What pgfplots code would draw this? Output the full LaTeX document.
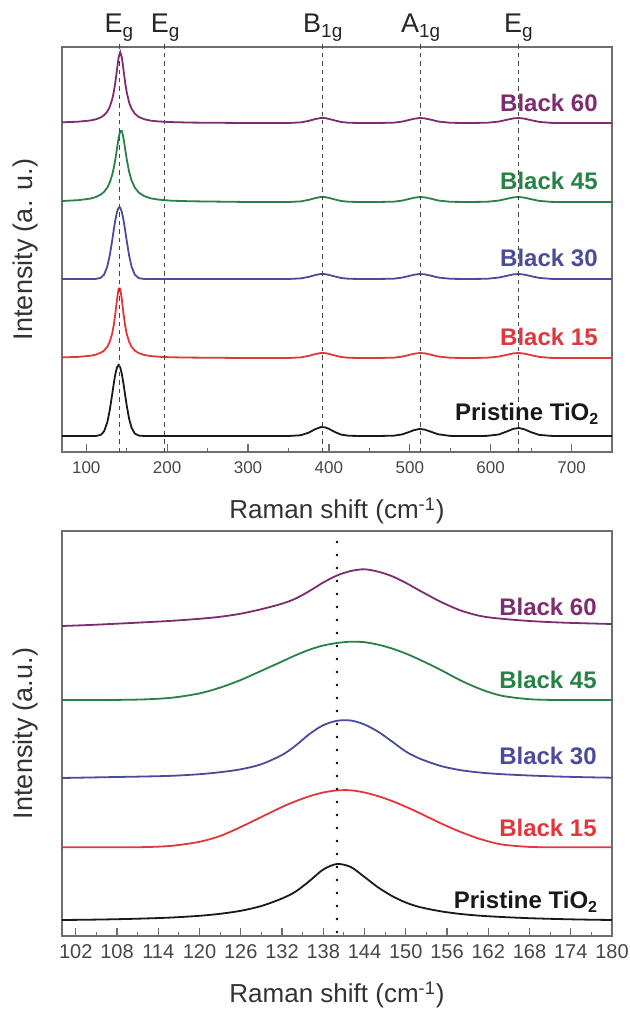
\documentclass[border=0pt]{standalone}
\usepackage{fontspec}
\setmainfont{Liberation Sans}
\usepackage{pgfplots}
\pgfplotsset{compat=1.18}
\usepackage{pgfplotstable}

\definecolor{cBsixty}{RGB}{125,45,110}
\definecolor{cBfortyfive}{RGB}{40,130,70}
\definecolor{cBthirty}{RGB}{75,75,155}
\definecolor{cBfifteen}{RGB}{225,55,60}
\definecolor{cPr}{RGB}{25,25,25}
\definecolor{axgray}{RGB}{110,110,110}
\definecolor{tickgray}{RGB}{70,70,70}
\definecolor{refgray}{RGB}{70,70,70}

% full range spectra (offset stacked)
\pgfplotstableread{
x   p     b15   b30   b45   b60
70  32    110.6 189   267.0 345.7
90  32    111.1 189   267.8 346.3
105 32    112.2 189   269.4 347.5
112 32    113.4 189.1 271.0 348.7
118 33.2  115.3 190.2 273.5 350.6
122 36.6  117.4 193.3 276.1 352.8
126 45.6  121.2 201.4 280.4 356.4
129 57.6  126.1 212.4 285.4 361.0
132 73.4  134.3 227.2 292.9 368.4
134 84.4  142.9 238.1 299.9 375.8
136 94.0  154.6 248.2 308.9 385.9
138 100.6 168.5 256.1 319.5 398.5
140 103.0 179.4 260.4 330.0 410.6
142 100.6 179.4 260.4 337.0 416.0
144 94.0  168.5 256.1 337.0 410.6
146 84.4  154.6 248.2 330.0 398.5
148 73.4  142.9 238.1 319.5 385.9
150 62.6  134.3 227.2 308.9 375.8
153 49.1  126.1 212.4 296.2 365.5
156 40.2  121.2 201.4 287.6 359.2
160 34.4  117.4 193.3 280.4 354.3
165 32.4  114.9 189.8 275.4 351.0
172 32    113.0 189   271.7 348.7
180 32    111.9 189   269.6 347.3
190 32    111.2 189   268.3 346.5
205 32    110.7 189   267.3 345.9
230 32    110.4 189   266.7 345.4
260 32    110.2 189   266.4 345.2
300 32    110   189   266   345
330 32    110   189   266   345
350 32    110   189   266   345
365 32.7  110.6 189.6 266.6 345.6
375 35.3  112.1 191.1 268.1 347.1
383 38.8  113.9 192.9 269.9 348.9
390 40.9  115.0 194.0 271.0 350.0
395 40.7  114.9 193.9 270.9 349.9
400 39.2  114.1 193.1 270.1 349.1
407 36.1  112.6 191.6 268.6 347.6
415 33.4  111.0 190.0 267.0 346.0
425 32.2  110.2 189.2 266.2 345.2
440 32    110   189   266   345
460 32    110   189   266   345
480 32.3  110.3 189.3 266.3 345.3
490 33.5  111.3 190.3 267.3 346.3
498 35.6  112.8 191.8 268.8 347.8
505 37.8  114.2 193.2 270.2 349.2
512 39.0  115.0 194.0 271.0 350.0
518 38.5  114.7 193.7 270.7 349.7
525 36.6  113.5 192.5 269.5 348.5
535 33.7  111.5 190.5 267.5 346.5
550 32.1  110.2 189.2 266.2 345.2
570 32    110   189   266   345
595 32.1  110.2 189.2 266.2 345.2
610 33.5  111.4 190.4 267.4 346.4
620 36.5  113.2 192.2 269.2 348.2
628 39.2  114.6 193.6 270.6 349.6
635 40.0  115.0 194.0 271.0 350.0
642 38.6  114.3 193.3 270.3 349.3
650 35.8  112.8 191.8 268.8 347.8
660 33.1  111.1 190.1 267.1 346.1
675 32.1  110.1 189.1 266.1 345.1
700 32    110   189   266   345
750 32    110   189   266   345
}\fullrange

% Eg mode region
\pgfplotstableread{
x   p    b15   b30   b45   b60
100 26   98.7  168   246   320
104 26.3 98.7  168.5 246   321
108 26.8 98.7  169   246.1 322.3
112 27.5 98.9  169.5 246.6 323.7
116 28.5 100.2 170.2 248.3 325.2
120 30.2 104.2 171.8 252.6 327.2
123 32.2 110   173.8 258.4 329.2
126 35.2 119   176.7 266   332.3
129 40   129   181.8 275.2 336.8
132 47.5 139   191   284.5 342.3
134 54.5 144.8 200.5 290.8 347.5
136 65   149.8 212   296.3 355
138 76.5 153.5 220.8 300.5 363.5
140 82   155.6 225.2 303   370.5
142 79   155.7 225.5 304.3 375
144 69   153.5 221.5 303.8 376.7
146 58.5 149.8 214.2 301.3 374.3
148 50   145   204.5 297.5 369.8
150 43.5 139.3 194.5 292.5 363.2
152 39   133   187.5 286.4 355.5
155 34.8 123   180.2 276.4 344.5
158 32   114   175.8 265.5 335.5
161 30.2 106.6 173.3 256.5 329.8
164 29   101.5 171.8 250.2 327.2
168 27.8 99.1  170.5 246.8 325
172 27   98.7  169.5 246   323.6
176 26.4 98.7  168.8 246   322.7
180 26   98.7  168.3 246   322
}\egregion

\tikzset{
  lbl/.style={anchor=east, font=\bfseries\fontsize{12}{14}\selectfont},
  modelbl/.style={anchor=base, font=\fontsize{13.5}{16}\selectfont, text=black!85},
  refline/.style={refgray, line width=0.65pt, dash pattern=on 2.2pt off 2pt},
}

\pgfplotsset{
  ramanax/.style={
    scale only axis, width=275pt, height=202.5pt,
    axis line style={axgray, line width=0.7pt},
    ytick=\empty, xtick pos=bottom, tick align=inside,
    major tick length=4pt, minor tick length=2.2pt,
    every tick/.style={axgray, line width=0.6pt},
    minor x tick num=1,
    xticklabel style={text=tickgray, anchor=center, yshift=-8pt},
    /pgf/number format/assume math mode=true,
    /pgf/number format/1000 sep={},
    xlabel={Raman shift (cm\textsuperscript{-1})},
    xlabel style={font=\fontsize{13}{15}\selectfont, text=black!80,
      at={(axis description cs:0.5,0)}, anchor=center, yshift=-29.5pt},
    ylabel style={font=\fontsize{13.5}{15}\selectfont, text=black!80,
      at={(axis description cs:-0.067,0.5)}, anchor=center},
    clip=false,
  },
}

\begin{document}
\begin{tikzpicture}
% ---- full range ----
\begin{axis}[ramanax, at={(31pt,280pt)}, anchor=south west,
  xmin=70, xmax=750, ymin=16, ymax=421,
  xtick={100,200,...,700},
  xticklabel style={font=\fontsize{8.5}{10}\selectfont},
  ylabel={Intensity (a. u.)},
]
\addplot[cPr, line width=0.9pt] table[x=x, y=p] {\fullrange};
\addplot[cBfifteen, line width=0.9pt] table[x=x, y=b15] {\fullrange};
\addplot[cBthirty, line width=0.9pt] table[x=x, y=b30] {\fullrange};
\addplot[cBfortyfive, line width=0.9pt] table[x=x, y=b45] {\fullrange};
\addplot[cBsixty, line width=0.9pt] table[x=x, y=b60] {\fullrange};

\addplot[refline, forget plot] coordinates {(141,16) (141,426)};
\addplot[refline, forget plot] coordinates {(197,16) (197,426)};
\addplot[refline, forget plot] coordinates {(392,16) (392,426)};
\addplot[refline, forget plot] coordinates {(513,16) (513,426)};
\addplot[refline, forget plot] coordinates {(634,16) (634,426)};

\node[modelbl] at (axis cs:141,435) {E\textsubscript{g}};
\node[modelbl] at (axis cs:198,435) {E\textsubscript{g}};
\node[modelbl] at (axis cs:393,435) {B\textsubscript{1g}};
\node[modelbl] at (axis cs:514,435) {A\textsubscript{1g}};
\node[modelbl] at (axis cs:635,435) {E\textsubscript{g}};

\node[lbl, text=cBsixty] at (axis cs:741,365) {Black 60};
\node[lbl, text=cBfortyfive] at (axis cs:741,287) {Black 45};
\node[lbl, text=cBthirty] at (axis cs:741,210) {Black 30};
\node[lbl, text=cBfifteen] at (axis cs:741,131) {Black 15};
\node[lbl, text=cPr] at (axis cs:743,54) {Pristine TiO\textsubscript{2}};
\end{axis}

% ---- Eg region ----
\begin{axis}[ramanax, at={(31pt,38pt)}, anchor=south west,
  xmin=100, xmax=180, ymin=10, ymax=415,
  xtick={102,108,...,180},
  xticklabel style={font=\fontsize{10}{11}\selectfont},
  ylabel={Intensity (a.u.)},
]
\addplot[cPr, line width=0.9pt, smooth] table[x=x, y=p] {\egregion};
\addplot[cBfifteen, line width=0.9pt, smooth] table[x=x, y=b15] {\egregion};
\addplot[cBthirty, line width=0.9pt, smooth] table[x=x, y=b30] {\egregion};
\addplot[cBfortyfive, line width=0.9pt, smooth] table[x=x, y=b45] {\egregion};
\addplot[cBsixty, line width=0.9pt, smooth] table[x=x, y=b60] {\egregion};

\addplot[black, line width=1.3pt, line cap=round, dash pattern=on 0pt off 6.5pt, forget plot]
  coordinates {(140,14) (140,415)};

\node[lbl, text=cBsixty] at (axis cs:178.8,339) {Black 60};
\node[lbl, text=cBfortyfive] at (axis cs:178.8,266) {Black 45};
\node[lbl, text=cBthirty] at (axis cs:178.8,190) {Black 30};
\node[lbl, text=cBfifteen] at (axis cs:178.8,118) {Black 15};
\node[lbl, text=cPr] at (axis cs:179,44) {Pristine TiO\textsubscript{2}};
\end{axis}

\pgfresetboundingbox
\path[use as bounding box] (0,0) rectangle (315pt,506pt);
\end{tikzpicture}
\end{document}
